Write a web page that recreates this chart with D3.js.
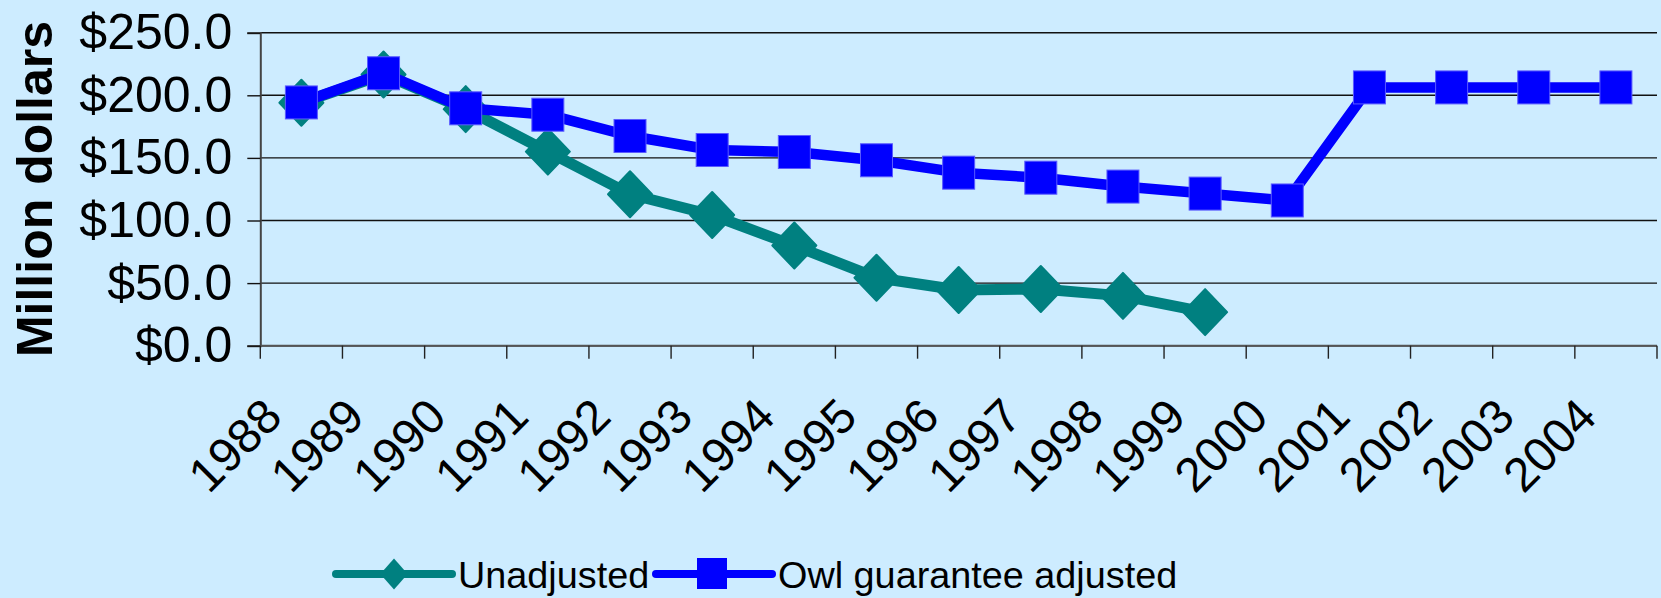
<!DOCTYPE html>
<html>
<head>
<meta charset="utf-8">
<script src="https://cdn.jsdelivr.net/npm/d3@7"></script>
<style>
  body { margin: 0; background: #cdecff; }
  text { font-family: "Liberation Sans", Arial, sans-serif; fill: #000; }
</style>
</head>
<body>
<div id="chart"></div>
<script>
// values (million dollars)
const years = ["1988","1989","1990","1991","1992","1993","1994","1995","1996","1997","1998","1999","2000","2001","2002","2003","2004"];
const unadjusted = [194, 216.6, 189, 155, 121, 104.4, 80, 54.3, 44.5, 45.3, 39.8, 26.8];
const owlAdjusted = [194.3, 217.6, 189.6, 184.5, 167.5, 156.3, 154.7, 148.1, 138.2, 134.2, 127.1, 121.5, 116, 206.3, 206.3, 206.3, 206.3];
const yTicks = [0, 50, 100, 150, 200, 250];
const seriesNames = ["Unadjusted", "Owl guarantee adjusted"];

const width = 1661, height = 598;
const plotLeft = 260.3, plotRight = 1657, plotTop = 32.7, plotBottom = 345.7;
const teal = "#008080", blue = "#0000ff";

const svg = d3.select("#chart").append("svg")
  .attr("width", width)
  .attr("height", height);

svg.append("rect").attr("width", width).attr("height", height).attr("fill", "#cdecff");

const x = d3.scaleBand().domain(years).range([plotLeft, plotRight]);
const y = d3.scaleLinear().domain([0, 250]).range([plotBottom, plotTop]);
const cx = d => x(d) + x.bandwidth() / 2;

// gridlines
svg.append("g").selectAll("line")
  .data(yTicks)
  .join("line")
    .attr("x1", plotLeft).attr("x2", plotRight)
    .attr("y1", d => y(d)).attr("y2", d => y(d))
    .attr("stroke", "#111").attr("stroke-width", 1.4);

// y axis
const yAxis = svg.append("g")
  .attr("transform", `translate(${plotLeft},0)`)
  .call(d3.axisLeft(y).tickValues(yTicks).tickSize(13).tickPadding(15)
    .tickFormat(d => "$" + d3.format(".1f")(d)));
yAxis.select(".domain").attr("stroke", "#444").attr("stroke-width", 2);
yAxis.selectAll(".tick line").attr("stroke", "#111").attr("stroke-width", 1.4);
yAxis.selectAll(".tick text")
  .style("font-family", '"Liberation Sans", Arial, sans-serif')
  .style("font-size", "50px");

// x axis: ticks sit on band edges
const xAxis = svg.append("g");
xAxis.append("line")
  .attr("x1", plotLeft).attr("x2", plotRight)
  .attr("y1", plotBottom).attr("y2", plotBottom)
  .attr("stroke", "#555").attr("stroke-width", 2);
xAxis.selectAll("line.tk")
  .data(years.map(d => x(d)).concat([plotRight]))
  .join("line")
    .attr("class", "tk")
    .attr("x1", d => d).attr("x2", d => d)
    .attr("y1", plotBottom).attr("y2", plotBottom + 13)
    .attr("stroke", "#222").attr("stroke-width", 1.4);
xAxis.selectAll("text")
  .data(years)
  .join("text")
    .attr("text-anchor", "end")
    .attr("transform", d => `translate(${cx(d) - 17},${plotBottom + 73.5}) rotate(-45)`)
    .style("font-size", "48px")
    .text(d => d);

// y title
svg.append("text")
  .attr("transform", "translate(51.5,189) rotate(-90)")
  .attr("text-anchor", "middle")
  .style("font-size", "50px")
  .style("font-weight", "bold")
  .text("Million dollars");

const diamond = (w, h) => `M${-w},0L0,${-h}L${w},0L0,${h}Z`;

function drawSeries(vals, color, lineW, marker) {
  const pts = vals.map((v, i) => [cx(years[i]), y(v)]);
  svg.append("path")
    .attr("d", d3.line()(pts))
    .attr("fill", "none")
    .attr("stroke", color)
    .attr("stroke-width", lineW)
    .attr("stroke-linejoin", "round");
  const g = svg.append("g");
  if (marker === "diamond") {
    g.selectAll("path").data(pts).join("path")
      .attr("transform", d => `translate(${d[0]},${d[1]})`)
      .attr("d", diamond(22, 23))
      .attr("fill", color).attr("stroke", color)
      .attr("stroke-width", 2).attr("stroke-linejoin", "round");
  } else {
    g.selectAll("rect").data(pts).join("rect")
      .attr("x", d => d[0] - 16).attr("y", d => d[1] - 16.5)
      .attr("width", 32).attr("height", 33)
      .attr("fill", color).attr("stroke", "#5a5aff").attr("stroke-width", 1);
  }
}

drawSeries(unadjusted, teal, 11, "diamond");
drawSeries(owlAdjusted, blue, 10.5, "square");

// legend
const legY = 574;
const leg = svg.append("g");
const legItems = [
  { name: seriesNames[0], color: teal, marker: "diamond", x0: 336 },
  { name: seriesNames[1], color: blue, marker: "square", x0: 656 }
];
legItems.forEach(it => {
  leg.append("line")
    .attr("x1", it.x0).attr("x2", it.x0 + 116)
    .attr("y1", legY).attr("y2", legY)
    .attr("stroke", it.color).attr("stroke-width", 8).attr("stroke-linecap", "round");
  if (it.marker === "diamond") {
    leg.append("path")
      .attr("transform", `translate(${it.x0 + 58},${legY})`)
      .attr("d", diamond(13.7, 15.5))
      .attr("fill", it.color);
  } else {
    leg.append("rect")
      .attr("x", it.x0 + 41).attr("y", legY - 16)
      .attr("width", 30).attr("height", 31)
      .attr("fill", it.color);
  }
  leg.append("text")
    .attr("x", it.x0 + 122).attr("y", legY + 14)
    .style("font-size", "37.8px")
    .text(it.name);
});
</script>
</body>
</html>
